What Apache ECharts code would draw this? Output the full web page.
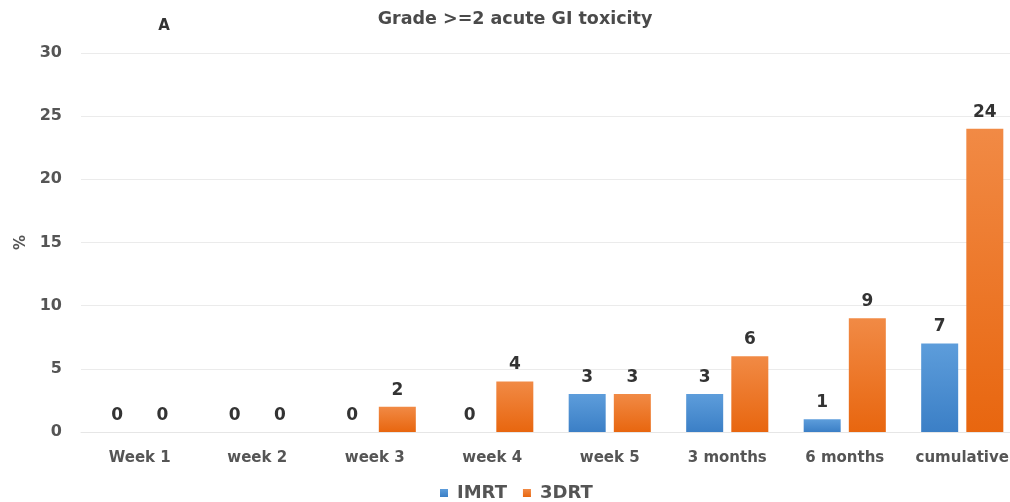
<!DOCTYPE html>
<html>
<head>
<meta charset="utf-8">
<script src="https://cdn.jsdelivr.net/npm/echarts@6/dist/echarts.min.js"></script>
<style>
  html, body { margin: 0; padding: 0; background: #ffffff; }
  #chart { width: 1010px; height: 502px; }
</style>
</head>
<body>
<div id="chart"></div>
<script>
// Grade >=2 acute GI toxicity, % of patients per time point
const categories = ['Week 1', 'week 2', 'week 3', 'week 4', 'week 5', '3 months', '6 months', 'cumulative'];
const imrtValues = [0, 0, 0, 0, 3, 3, 1, 7];
const drtValues = [0, 0, 2, 4, 3, 6, 9, 24];
const seriesNames = ['IMRT', '3DRT'];

const FONT = '"DejaVu Sans", Verdana, sans-serif';

function grad(top, bottom) {
  return new echarts.graphic.LinearGradient(0, 0, 0, 1, [
    { offset: 0, color: top },
    { offset: 1, color: bottom }
  ]);
}

const labelStyle = {
  show: true,
  position: 'top',
  distance: 8,
  color: '#333333',
  fontFamily: FONT,
  fontWeight: 'bold',
  fontSize: 17
};

const chart = echarts.init(document.getElementById('chart'), null, { renderer: 'canvas' });
chart.setOption({
  backgroundColor: '#ffffff',
  animation: false,
  graphic: [
    {
      type: 'text',
      x: 515, y: 19,
      style: {
        text: 'Grade >=2 acute GI toxicity',
        align: 'center', verticalAlign: 'middle',
        font: 'bold 17.5px ' + FONT,
        fill: '#4a4a4a'
      }
    },
    {
      type: 'text',
      x: 164, y: 26,
      style: {
        text: 'A',
        align: 'center', verticalAlign: 'middle',
        font: 'bold 15px ' + FONT,
        fill: '#333333'
      }
    }
  ],
  legend: {
    data: seriesNames,
    bottom: 0,
    left: 440,
    padding: 0,
    itemWidth: 8, itemHeight: 8,
    itemGap: 16,
    icon: 'rect',
    textStyle: { fontFamily: FONT, fontWeight: 'bold', fontSize: 18, color: '#555555', padding: [0, 0, 0, 4] }
  },
  grid: { left: 81, top: 53, width: 940, height: 379, containLabel: false, outerBoundsMode: 'none' },
  xAxis: {
    type: 'category',
    data: categories,
    axisLine: { show: true, lineStyle: { color: '#e6e6e6', width: 1 } },
    axisTick: { show: false },
    axisLabel: {
      interval: 0,
      margin: 19,
      fontFamily: FONT, fontWeight: 'bold', fontSize: 15, color: '#555555'
    }
  },
  yAxis: {
    type: 'value',
    min: 0, max: 30, interval: 5,
    name: '%',
    nameLocation: 'middle',
    nameGap: 51,
    nameRotate: 90,
    nameTextStyle: { fontFamily: FONT, fontWeight: 'bold', fontSize: 15, color: '#555555' },
    axisLine: { show: false },
    axisTick: { show: false },
    axisLabel: {
      margin: 19,
      fontFamily: FONT, fontWeight: 'bold', fontSize: 16, color: '#555555'
    },
    splitLine: { lineStyle: { color: '#ebebeb', width: 1 } }
  },
  series: [
    {
      name: seriesNames[0],
      type: 'bar',
      data: imrtValues,
      barWidth: 37,
      barGap: '22%',
      itemStyle: { color: grad('#5d9ddb', '#3b7fc6') },
      label: labelStyle
    },
    {
      name: seriesNames[1],
      type: 'bar',
      data: drtValues,
      barWidth: 37,
      barGap: '22%',
      itemStyle: { color: grad('#f18a45', '#e8660f') },
      label: labelStyle
    }
  ]
});
</script>
</body>
</html>
